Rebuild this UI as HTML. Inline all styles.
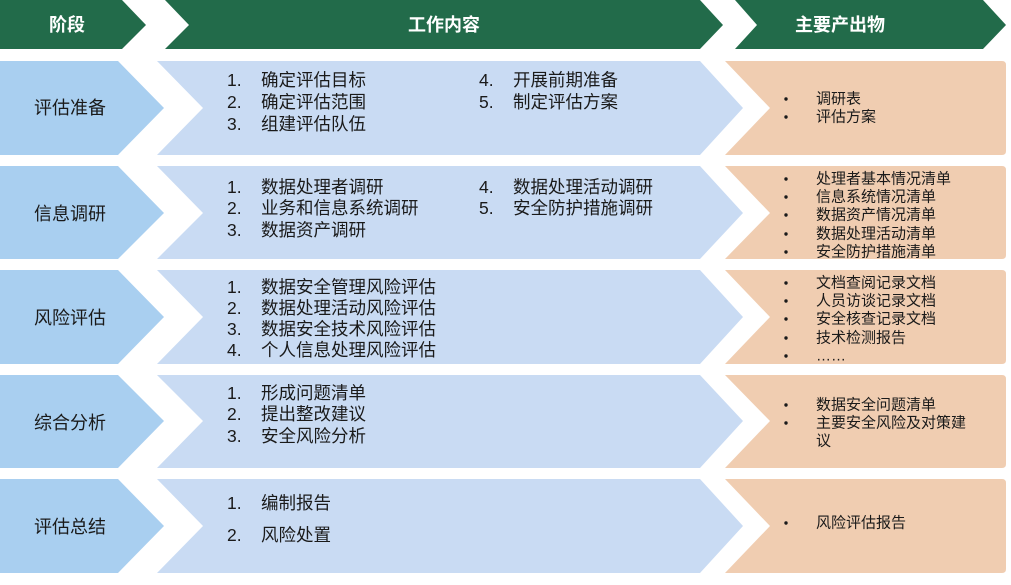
<!DOCTYPE html>
<html><head><meta charset="utf-8"><style>
html,body{margin:0;padding:0;background:#fff}
svg{display:block}
text{font-family:"Liberation Sans","Noto Sans CJK SC",sans-serif;fill:#1a1a1a}
.h{fill:#fff;font-weight:bold;font-size:18px}
.s{font-size:18px}
.w{font-size:17.5px}
.o{font-size:15px}
</style></head><body>
<svg width="1011" height="585" viewBox="0 0 1011 585">
<g fill="#226B4A">
<polygon points="0,0 122,0 146,25 122,49 0,49"/>
<polygon points="165,0 700,0 723,25 700,49 165,49 189,25"/>
<polygon points="735,0 983,0 1006,25 983,49 735,49 757,25"/>
</g>
<text class="h" x="67" y="25" text-anchor="middle" dominant-baseline="central">阶段</text>
<text class="h" x="444" y="25" text-anchor="middle" dominant-baseline="central">工作内容</text>
<text class="h" x="840" y="25" text-anchor="middle" dominant-baseline="central">主要产出物</text>

<g>
<polygon fill="#A9CFF0" points="0,61 118,61 164,108 118,155 0,155"/>
<polygon fill="#C9DBF3" points="157,61 700,61 743,108 700,155 157,155 203,108"/>
<path fill="#F0CDB1" d="M725,61 H1002 Q1006,61 1006,65 V151 Q1006,155 1002,155 H725 L770,108 Z"/>

<polygon fill="#A9CFF0" points="0,166 118,166 164,213 118,259 0,259"/>
<polygon fill="#C9DBF3" points="157,166 700,166 743,213 700,259 157,259 203,213"/>
<path fill="#F0CDB1" d="M725,166 H1002 Q1006,166 1006,170 V255 Q1006,259 1002,259 H725 L770,213 Z"/>

<polygon fill="#A9CFF0" points="0,270 118,270 164,317 118,364 0,364"/>
<polygon fill="#C9DBF3" points="157,270 700,270 743,317 700,364 157,364 203,317"/>
<path fill="#F0CDB1" d="M725,270 H1002 Q1006,270 1006,274 V360 Q1006,364 1002,364 H725 L770,317 Z"/>

<polygon fill="#A9CFF0" points="0,375 118,375 164,421 118,468 0,468"/>
<polygon fill="#C9DBF3" points="157,375 700,375 743,421 700,468 157,468 203,421"/>
<path fill="#F0CDB1" d="M725,375 H1002 Q1006,375 1006,379 V464 Q1006,468 1002,468 H725 L770,421 Z"/>

<polygon fill="#A9CFF0" points="0,479 118,479 164,526 118,573 0,573"/>
<polygon fill="#C9DBF3" points="157,479 700,479 743,526 700,573 157,573 203,526"/>
<path fill="#F0CDB1" d="M725,479 H1002 Q1006,479 1006,483 V569 Q1006,573 1002,573 H725 L770,526 Z"/>
</g>

<text class="s" x="70" y="108" text-anchor="middle" dominant-baseline="central">评估准备</text>
<text class="s" x="70" y="214" text-anchor="middle" dominant-baseline="central">信息调研</text>
<text class="s" x="70" y="318" text-anchor="middle" dominant-baseline="central">风险评估</text>
<text class="s" x="70" y="423" text-anchor="middle" dominant-baseline="central">综合分析</text>
<text class="s" x="70" y="527" text-anchor="middle" dominant-baseline="central">评估总结</text>

<g>
<text class="w" dominant-baseline="central" x="227" y="80">1.</text><text class="w" dominant-baseline="central" x="261" y="80">确定评估目标</text>
<text class="w" dominant-baseline="central" x="227" y="102">2.</text><text class="w" dominant-baseline="central" x="261" y="102">确定评估范围</text>
<text class="w" dominant-baseline="central" x="227" y="124">3.</text><text class="w" dominant-baseline="central" x="261" y="124">组建评估队伍</text>
<text class="w" dominant-baseline="central" x="479" y="80">4.</text><text class="w" dominant-baseline="central" x="513" y="80">开展前期准备</text>
<text class="w" dominant-baseline="central" x="479" y="102">5.</text><text class="w" dominant-baseline="central" x="513" y="102">制定评估方案</text>

<text class="w" dominant-baseline="central" x="227" y="187">1.</text><text class="w" dominant-baseline="central" x="261" y="187">数据处理者调研</text>
<text class="w" dominant-baseline="central" x="227" y="208">2.</text><text class="w" dominant-baseline="central" x="261" y="208">业务和信息系统调研</text>
<text class="w" dominant-baseline="central" x="227" y="230">3.</text><text class="w" dominant-baseline="central" x="261" y="230">数据资产调研</text>
<text class="w" dominant-baseline="central" x="479" y="187">4.</text><text class="w" dominant-baseline="central" x="513" y="187">数据处理活动调研</text>
<text class="w" dominant-baseline="central" x="479" y="208">5.</text><text class="w" dominant-baseline="central" x="513" y="208">安全防护措施调研</text>

<text class="w" dominant-baseline="central" x="227" y="287">1.</text><text class="w" dominant-baseline="central" x="261" y="287">数据安全管理风险评估</text>
<text class="w" dominant-baseline="central" x="227" y="308">2.</text><text class="w" dominant-baseline="central" x="261" y="308">数据处理活动风险评估</text>
<text class="w" dominant-baseline="central" x="227" y="329">3.</text><text class="w" dominant-baseline="central" x="261" y="329">数据安全技术风险评估</text>
<text class="w" dominant-baseline="central" x="227" y="350">4.</text><text class="w" dominant-baseline="central" x="261" y="350">个人信息处理风险评估</text>

<text class="w" dominant-baseline="central" x="227" y="393">1.</text><text class="w" dominant-baseline="central" x="261" y="393">形成问题清单</text>
<text class="w" dominant-baseline="central" x="227" y="414">2.</text><text class="w" dominant-baseline="central" x="261" y="414">提出整改建议</text>
<text class="w" dominant-baseline="central" x="227" y="436">3.</text><text class="w" dominant-baseline="central" x="261" y="436">安全风险分析</text>

<text class="w" dominant-baseline="central" x="227" y="503">1.</text><text class="w" dominant-baseline="central" x="261" y="503">编制报告</text>
<text class="w" dominant-baseline="central" x="227" y="535">2.</text><text class="w" dominant-baseline="central" x="261" y="535">风险处置</text>
</g>

<g fill="#1a1a1a">
<circle cx="786" cy="99" r="1.7"/><circle cx="786" cy="117" r="1.7"/>
<circle cx="786" cy="179" r="1.7"/><circle cx="786" cy="197" r="1.7"/><circle cx="786" cy="215" r="1.7"/><circle cx="786" cy="234" r="1.7"/><circle cx="786" cy="252" r="1.7"/>
<circle cx="786" cy="283" r="1.7"/><circle cx="786" cy="301" r="1.7"/><circle cx="786" cy="319" r="1.7"/><circle cx="786" cy="338" r="1.7"/><circle cx="786" cy="356" r="1.7"/>
<circle cx="786" cy="405" r="1.7"/><circle cx="786" cy="423" r="1.7"/>
<circle cx="786" cy="523" r="1.7"/>
</g>
<g>
<text class="o" dominant-baseline="central" x="816" y="99">调研表</text>
<text class="o" dominant-baseline="central" x="816" y="117">评估方案</text>
<text class="o" dominant-baseline="central" x="816" y="179">处理者基本情况清单</text>
<text class="o" dominant-baseline="central" x="816" y="197">信息系统情况清单</text>
<text class="o" dominant-baseline="central" x="816" y="215">数据资产情况清单</text>
<text class="o" dominant-baseline="central" x="816" y="234">数据处理活动清单</text>
<text class="o" dominant-baseline="central" x="816" y="252">安全防护措施清单</text>
<text class="o" dominant-baseline="central" x="816" y="283">文档查阅记录文档</text>
<text class="o" dominant-baseline="central" x="816" y="301">人员访谈记录文档</text>
<text class="o" dominant-baseline="central" x="816" y="319">安全核查记录文档</text>
<text class="o" dominant-baseline="central" x="816" y="338">技术检测报告</text>
<text class="o" dominant-baseline="central" x="816" y="356">……</text>
<text class="o" dominant-baseline="central" x="816" y="405">数据安全问题清单</text>
<text class="o" dominant-baseline="central" x="816" y="423">主要安全风险及对策建</text>
<text class="o" dominant-baseline="central" x="816" y="441">议</text>
<text class="o" dominant-baseline="central" x="816" y="523">风险评估报告</text>
</g>
</svg>
</body></html>
